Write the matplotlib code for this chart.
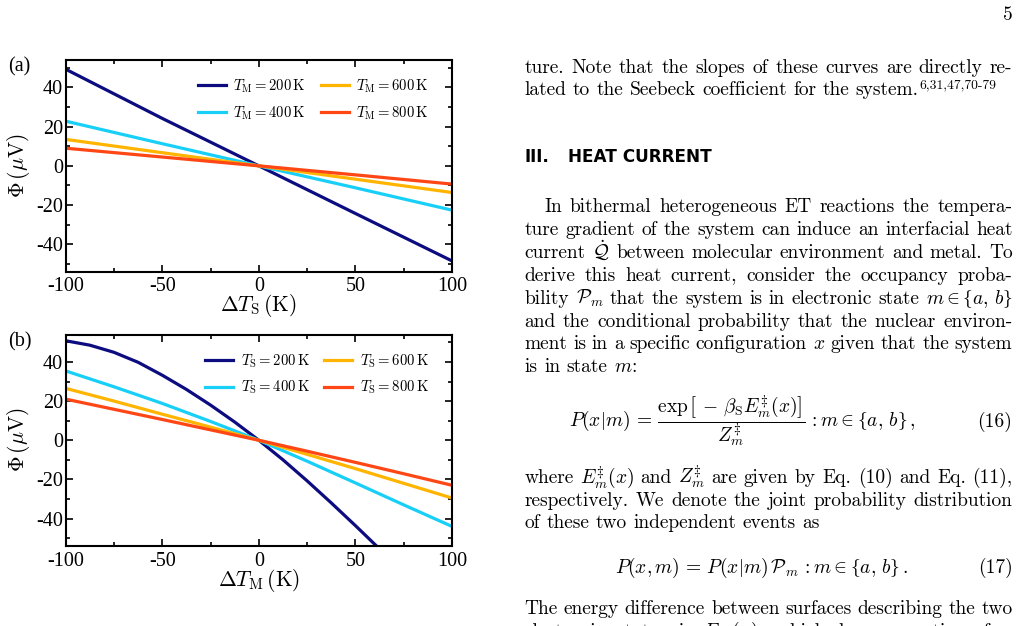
import matplotlib
matplotlib.use('Agg')
import matplotlib.pyplot as plt
from matplotlib.ticker import MultipleLocator, FuncFormatter

plt.rcParams['mathtext.fontset'] = 'cm'
plt.rcParams['axes.unicode_minus'] = False

# ---------------- data ----------------
# panel (a): Phi vs Delta T_S for several T_M
dTS = [-100, -50, 0, 50, 100]
phiA_200 = [49.3, 24.2, 0.0, -24.3, -48.5]
phiA_400 = [22.8, 11.3, 0.0, -11.2, -22.6]
phiA_600 = [13.5, 6.7, 0.0, -6.8, -13.6]
phiA_800 = [9.0, 4.5, 0.0, -4.6, -9.3]
labelsA = [r'$T_{\rm M}=200\,{\rm K}$', r'$T_{\rm M}=400\,{\rm K}$',
           r'$T_{\rm M}=600\,{\rm K}$', r'$T_{\rm M}=800\,{\rm K}$']

# panel (b): Phi vs Delta T_M for several T_S
dTM_fine = [-100, -87.5, -75, -62.5, -50, -37.5, -25, -12.5, 0,
            12.5, 25, 37.5, 50, 62.5, 75, 87.5, 100]
phiB_200 = [50.8, 48.55, 44.9, 39.8, 33.2, 25.95, 17.95, 9.3, 0.0,
            -10.0, -20.75, -32.0, -43.6, -55.5, -67.5, -79.5, -91.5]
dTM = [-100, -75, -50, -25, 0, 25, 50, 75, 100]
phiB_400 = [35.4, 27.3, 18.8, 9.6, 0.0, -10.7, -21.8, -33.0, -44.0]
phiB_600 = [26.5, 20.0, 13.3, 6.7, 0.0, -7.2, -14.5, -22.0, -29.5]
phiB_800 = [21.0, 15.8, 10.6, 5.3, 0.0, -5.6, -11.3, -17.1, -23.0]
labelsB = [r'$T_{\rm S}=200\,{\rm K}$', r'$T_{\rm S}=400\,{\rm K}$',
           r'$T_{\rm S}=600\,{\rm K}$', r'$T_{\rm S}=800\,{\rm K}$']

colors = ['#0c0c80', '#18cff8', '#ffb400', '#ff4716']

# ---------------- figure ----------------
W, H = 1020, 626
fig = plt.figure(figsize=(W / 100, H / 100), dpi=100)


def rect(l, t, r, b):
    return [l / W, 1 - b / H, (r - l) / W, (b - t) / H]


axA = fig.add_axes(rect(65.7, 60, 452, 271.7))
axB = fig.add_axes(rect(65.7, 334.5, 452, 546))

axA.plot(dTS, phiA_200, color=colors[0], lw=2.3, label=labelsA[0])
axA.plot(dTS, phiA_400, color=colors[1], lw=2.3, label=labelsA[1])
axA.plot(dTS, phiA_600, color=colors[2], lw=2.3, label=labelsA[2])
axA.plot(dTS, phiA_800, color=colors[3], lw=2.3, label=labelsA[3])

axB.plot(dTM_fine, phiB_200, color=colors[0], lw=2.3, label=labelsB[0])
axB.plot(dTM, phiB_400, color=colors[1], lw=2.3, label=labelsB[1])
axB.plot(dTM, phiB_600, color=colors[2], lw=2.3, label=labelsB[2])
axB.plot(dTM, phiB_800, color=colors[3], lw=2.3, label=labelsB[3])

fmt = FuncFormatter(lambda v, p: f'{v:g}')
for ax, xl in ((axA, r'$\Delta T_{\rm S}\,({\rm K})$'), (axB, r'$\Delta T_{\rm M}\,({\rm K})$')):
    ax.set_xlim(-100, 100)
    ax.set_ylim(-54, 54)
    ax.xaxis.set_major_locator(MultipleLocator(50))
    ax.xaxis.set_minor_locator(MultipleLocator(25))
    ax.yaxis.set_major_locator(MultipleLocator(20))
    ax.yaxis.set_minor_locator(MultipleLocator(10))
    ax.xaxis.set_major_formatter(fmt)
    ax.yaxis.set_major_formatter(fmt)
    ax.tick_params(which='both', direction='in', top=True, right=True, width=1.2,
                   labelsize=14.5, labelfontfamily='Liberation Serif')
    ax.tick_params(which='major', length=5)
    ax.tick_params(which='minor', length=3.2)
    ax.tick_params(axis='x', pad=4)
    ax.tick_params(axis='y', pad=2)
    for s in ax.spines.values():
        s.set_linewidth(1.5)
    ax.set_xlabel(xl, fontsize=15.5)
    ax.set_ylabel(r'$\Phi\,(\mu{\rm V})$', fontsize=15.5)
    ax.xaxis.set_label_coords(0.5, -0.097)
    ax.yaxis.set_label_coords(-0.086, 0.5)
    ax.legend(ncol=2, loc='upper right', bbox_to_anchor=(0.955, 0.945), borderaxespad=0,
              frameon=False, fontsize=10.6, handlelength=1.9, handletextpad=0.5,
              columnspacing=1.0, labelspacing=0.62)

fig.text(8 / W, 1 - 71.5 / H, '(a)', fontsize=14.5, family='Liberation Serif', va='baseline')
fig.text(8 / W, 1 - 346 / H, '(b)', fontsize=14.5, family='Liberation Serif', va='baseline')

# ---------------- text column ----------------
renderer = fig.canvas.get_renderer()
X0, X1 = 524.5, 1012.5
# text-size braces taken from the Computer Modern symbol font
LB, RB = r'\mathcal{f}', r'\mathcal{g}'


def word_widths(words, size):
    out = []
    for w in words:
        t = fig.text(0, 0, w, fontsize=size, family='cmr10')
        out.append(t.get_window_extent(renderer).width)
        t.remove()
    return out


# calibrate body size so that normally spaced full lines fill the column
calib = ['ture. Note that the slopes of these curves are directly re-',
         'The energy difference between surfaces describing the two']
sizes = []
for line in calib:
    ws = line.split(' ')
    s10 = sum(word_widths(ws, 10.0)) / 10.0
    sizes.append((X1 - X0) / (s10 + (len(ws) - 1) * 0.333 * 100 / 72))
BODY = sum(sizes) / len(sizes)


def place_line(s, y, x0=X0, justify=True, size=None):
    size = size or BODY
    words = s.split(' ')
    texts, widths = [], []
    for w in words:
        t = fig.text(0, 1 - y / H, w, fontsize=size, family='cmr10', va='baseline', ha='left')
        widths.append(t.get_window_extent(renderer).width)
        texts.append(t)
    if justify and len(words) > 1:
        gap = (X1 - x0 - sum(widths)) / (len(words) - 1)
    else:
        gap = 0.333 * size * 100 / 72
    x = x0
    for t, w in zip(texts, widths):
        t.set_x(x / W)
        x += w + gap
    return x - gap


fig.text(X1 / W, 1 - 20 / H, '5', fontsize=BODY, family='cmr10', va='baseline', ha='right')

place_line('ture. Note that the slopes of these curves are directly re-', 72.7)
xe = place_line('lated to the Seebeck coefficient for the system.', 95.3, justify=False)
fig.text((xe + 1) / W, 1 - 88.0 / H, '6,31,47,70-79', fontsize=BODY * 0.7, family='cmr10',
         va='baseline', ha='left')

fig.text(X0 / W, 1 - 161.7 / H, 'III.', fontsize=12.2, family='DejaVu Sans', weight='bold',
         va='baseline')
fig.text(568.3 / W, 1 - 161.7 / H, 'HEAT CURRENT', fontsize=12.2, family='DejaVu Sans',
         weight='bold', va='baseline')

place_line('In bithermal heterogeneous ET reactions the tempera-', 212.3, x0=544.3)
place_line('ture gradient of the system can induce an interfacial heat', 235.2)
place_line(r'current $\dot{\mathcal{Q}}$ between molecular environment and metal. To', 258.0)
place_line('derive this heat current, consider the occupancy proba-', 281.0)
place_line(r'bility $\mathcal{P}_m$ that the system is in electronic state $m\in' + LB +
           r'a,\,b' + RB + '$', 304.0)
place_line('and the conditional probability that the nuclear environ-', 326.7)
place_line(r'ment is in a specific configuration $x$ given that the system', 349.5)
place_line(r'is in state $m$:', 372.5, justify=False)

fig.text(569 / W, 1 - 426.7 / H,
         r'$P(x|m)\,=\,\dfrac{\exp\left[\,-\,\beta_{\rm S}E^{\ddagger}_m(x)\right]}{Z^{\ddagger}_m}\,:m\in'
         + LB + r'a,\,b' + RB + r'\,,$',
         fontsize=BODY, va='baseline', ha='left')
fig.text(X1 / W, 1 - 426.7 / H, '(16)', fontsize=BODY, family='cmr10', va='baseline', ha='right')

place_line(r'where $E^{\ddagger}_m(x)$ and $Z^{\ddagger}_m$ are given by Eq. (10) and Eq. (11),', 483.3)
place_line('respectively. We denote the joint probability distribution', 506.0)
place_line('of these two independent events as', 528.5, justify=False)

fig.text(615 / W, 1 - 573.3 / H,
         r'$P(x,m)\,=\,P(x|m)\,\mathcal{P}_m\,:m\in' + LB + r'a,\,b' + RB + r'\,.$',
         fontsize=BODY, va='baseline', ha='left')
fig.text(X1 / W, 1 - 573.3 / H, '(17)', fontsize=BODY, family='cmr10', va='baseline', ha='right')

place_line('The energy difference between surfaces describing the two', 614.0)
place_line(r'electronic states is $E_{ab}(x)$, which has properties of a', 637.0)

fig.savefig('out.png', dpi=100)
